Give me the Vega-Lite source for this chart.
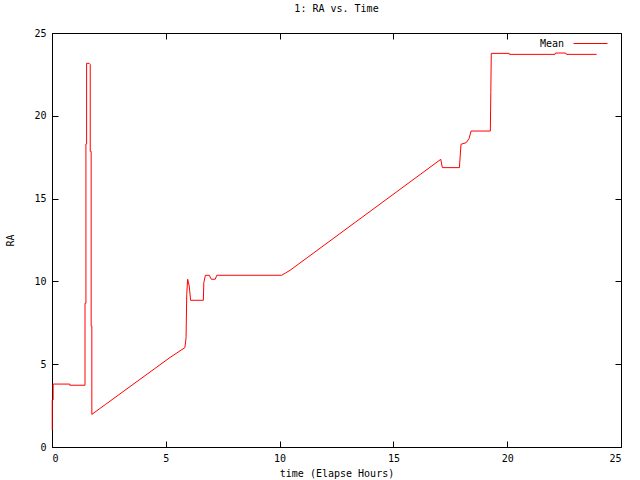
{
  "$schema": "https://vega.github.io/schema/vega-lite/v6.json",
  "width": 569,
  "height": 414,
  "autosize": {"type": "none"},
  "padding": {"left": 52, "top": 33, "right": 19, "bottom": 33},
  "background": "white",
  "title": {
    "text": "1: RA vs. Time",
    "font": "DejaVu Sans Mono",
    "fontSize": 10,
    "fontWeight": "normal",
    "color": "black",
    "offset": 12
  },
  "data": {
    "values": [
      {"series": "Mean", "t": 0.01, "ra": 1.03}, {"series": "Mean", "t": 0.01, "ra": 2.84}, {"series": "Mean", "t": 0.05, "ra": 2.84},
      {"series": "Mean", "t": 0.05, "ra": 3.8}, {"series": "Mean", "t": 0.78, "ra": 3.8}, {"series": "Mean", "t": 0.78, "ra": 3.73},
      {"series": "Mean", "t": 1.45, "ra": 3.73}, {"series": "Mean", "t": 1.45, "ra": 8.68}, {"series": "Mean", "t": 1.49, "ra": 8.68},
      {"series": "Mean", "t": 1.49, "ra": 18.3}, {"series": "Mean", "t": 1.52, "ra": 18.3}, {"series": "Mean", "t": 1.52, "ra": 23.17},
      {"series": "Mean", "t": 1.63, "ra": 23.17}, {"series": "Mean", "t": 1.68, "ra": 23.1}, {"series": "Mean", "t": 1.68, "ra": 17.85},
      {"series": "Mean", "t": 1.72, "ra": 17.85}, {"series": "Mean", "t": 1.72, "ra": 7.3}, {"series": "Mean", "t": 1.75, "ra": 7.3},
      {"series": "Mean", "t": 1.75, "ra": 1.97}, {"series": "Mean", "t": 2.36, "ra": 2.58}, {"series": "Mean", "t": 5.18, "ra": 5.4},
      {"series": "Mean", "t": 5.84, "ra": 6.0}, {"series": "Mean", "t": 5.89, "ra": 6.6}, {"series": "Mean", "t": 5.92, "ra": 9.2},
      {"series": "Mean", "t": 5.96, "ra": 10.13}, {"series": "Mean", "t": 6.03, "ra": 9.72}, {"series": "Mean", "t": 6.09, "ra": 8.86},
      {"series": "Mean", "t": 6.65, "ra": 8.86}, {"series": "Mean", "t": 6.67, "ra": 9.92}, {"series": "Mean", "t": 6.74, "ra": 10.37},
      {"series": "Mean", "t": 6.91, "ra": 10.37}, {"series": "Mean", "t": 7.0, "ra": 10.13}, {"series": "Mean", "t": 7.17, "ra": 10.13},
      {"series": "Mean", "t": 7.24, "ra": 10.37}, {"series": "Mean", "t": 10.09, "ra": 10.37}, {"series": "Mean", "t": 10.25, "ra": 10.5},
      {"series": "Mean", "t": 10.46, "ra": 10.67}, {"series": "Mean", "t": 17.08, "ra": 17.37}, {"series": "Mean", "t": 17.15, "ra": 16.87},
      {"series": "Mean", "t": 17.9, "ra": 16.87}, {"series": "Mean", "t": 17.97, "ra": 18.28}, {"series": "Mean", "t": 18.2, "ra": 18.38},
      {"series": "Mean", "t": 18.33, "ra": 18.64}, {"series": "Mean", "t": 18.41, "ra": 19.08}, {"series": "Mean", "t": 19.26, "ra": 19.08},
      {"series": "Mean", "t": 19.28, "ra": 21.4}, {"series": "Mean", "t": 19.3, "ra": 23.77}, {"series": "Mean", "t": 20.09, "ra": 23.77},
      {"series": "Mean", "t": 20.1, "ra": 23.71}, {"series": "Mean", "t": 22.1, "ra": 23.71}, {"series": "Mean", "t": 22.12, "ra": 23.79},
      {"series": "Mean", "t": 22.57, "ra": 23.79}, {"series": "Mean", "t": 22.6, "ra": 23.71}, {"series": "Mean", "t": 23.93, "ra": 23.71}
    ]
  },
  "layer": [
    {
      "mark": {"type": "line", "strokeWidth": 1, "interpolate": "linear"},
      "encoding": {
        "x": {
          "field": "t",
          "type": "quantitative",
          "scale": {"domain": [0, 25], "nice": false},
          "axis": {"orient": "bottom", "values": [0, 5, 10, 15, 20, 25], "title": "time (Elapse Hours)", "titlePadding": 5}
        },
        "y": {
          "field": "ra",
          "type": "quantitative",
          "scale": {"domain": [0, 25], "nice": false},
          "axis": {"orient": "left", "values": [0, 5, 10, 15, 20, 25], "title": "RA", "titlePadding": 18}
        },
        "order": {"field": "t"},
        "color": {
          "field": "series",
          "type": "nominal",
          "scale": {"domain": ["Mean"], "range": ["#ff0000"]},
          "legend": {
            "title": null,
            "orient": "none",
            "legendX": 521,
            "legendY": -7,
            "padding": 0,
            "symbolType": "stroke",
            "symbolSize": 1156,
            "symbolStrokeWidth": 1,
            "labelAlign": "right",
            "labelOffset": -44,
            "labelFont": "DejaVu Sans Mono",
            "labelFontSize": 10,
            "labelColor": "black"
          }
        }
      }
    },
    {
      "mark": {"type": "line", "opacity": 0},
      "encoding": {
        "x": {
          "field": "t",
          "type": "quantitative",
          "axis": {"orient": "top", "values": [0, 5, 10, 15, 20, 25], "labels": false, "title": null}
        },
        "y": {
          "field": "ra",
          "type": "quantitative",
          "axis": {"orient": "right", "values": [0, 5, 10, 15, 20, 25], "labels": false, "title": null}
        }
      }
    }
  ],
  "resolve": {"axis": {"x": "independent", "y": "independent"}},
  "config": {
    "view": {"stroke": "black", "strokeWidth": 1},
    "axis": {
      "domain": false,
      "grid": false,
      "tickSize": -6,
      "tickColor": "black",
      "labelFont": "DejaVu Sans Mono",
      "labelFontSize": 10,
      "labelColor": "black",
      "labelPadding": 12,
      "titleFont": "DejaVu Sans Mono",
      "titleFontSize": 10,
      "titleFontWeight": "normal",
      "titleColor": "black"
    }
  }
}
